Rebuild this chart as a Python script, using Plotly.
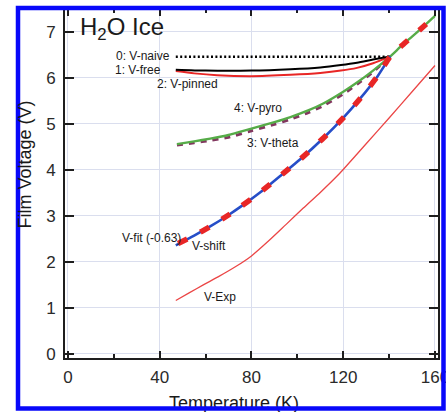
import plotly.graph_objects as go

# ---- data -------------------------------------------------------------
# 0: V-naive (constant)
t_naive = [47, 140.5]
v_naive = [6.46, 6.46]

# 1: V-free
t_free = [47, 60, 80, 97, 110, 119, 126, 133, 140.5]
v_free = [6.18, 6.16, 6.16, 6.19, 6.23, 6.28, 6.33, 6.40, 6.47]

# 2: V-pinned
t_pinned = [47, 55, 65, 80, 97, 110, 119, 126, 133, 140.5]
v_pinned = [6.15, 6.10, 6.06, 6.04, 6.07, 6.11, 6.16, 6.22, 6.32, 6.47]

# 4: V-pyro
t_pyro = [47.5, 55, 62, 70, 80, 90, 97, 105, 111.5, 120, 126, 133, 140.5, 145, 150, 155, 160]
v_pyro = [4.56, 4.62, 4.68, 4.76, 4.90, 5.04, 5.15, 5.30, 5.45, 5.70, 5.90, 6.16, 6.47, 6.68, 6.90, 7.12, 7.35]

# 3: V-theta
t_theta = [47.5, 55, 62, 70, 80, 90, 97, 105, 111.5, 120, 126, 133, 140.5]
v_theta = [4.54, 4.59, 4.64, 4.71, 4.85, 4.99, 5.10, 5.25, 5.40, 5.65, 5.86, 6.13, 6.47]

# V-fit (-0.63)
t_fit = [47, 55, 62, 70, 75, 84, 94, 101, 111.5, 120, 127.5, 135, 140.5]
v_fit = [2.36, 2.57, 2.77, 3.02, 3.19, 3.52, 3.93, 4.22, 4.70, 5.13, 5.56, 6.04, 6.47]

# V-shift
t_shift = [48, 55, 62, 70, 75, 84, 94, 101, 111.5, 120, 127.5, 135, 140.5, 145, 150, 155, 160]
v_shift = [2.40, 2.57, 2.77, 3.02, 3.19, 3.52, 3.93, 4.22, 4.70, 5.13, 5.56, 6.04, 6.47, 6.68, 6.90, 7.12, 7.35]

# V-Exp (measured)
t_exp = [47, 53, 59, 66, 73.5, 80, 88, 95, 102.6, 110, 117, 120, 130, 140, 150, 160]
v_exp = [1.16, 1.33, 1.50, 1.69, 1.91, 2.13, 2.48, 2.81, 3.17, 3.51, 3.85, 4.01, 4.57, 5.13, 5.70, 6.27]

x_ticks = [0, 40, 80, 120, 160]
y_ticks = [0, 1, 2, 3, 4, 5, 6, 7]

# ---- layout geometry (pixels) ----------------------------------------
W, H = 446, 412
PL, PR, PT, PB = 65, 437.5, 9, 357.5
FONT = "Liberation Sans, Arial, sans-serif"

RED = "rgb(232,38,38)"
GREEN = "rgb(86,172,72)"
BLUE = "rgb(38,78,200)"
THETA = "rgb(130,55,95)"

fig = go.Figure()

def line(t, v, color, width, dash="solid"):
    fig.add_trace(go.Scatter(x=t, y=v, mode="lines",
                             line=dict(color=color, width=width, dash=dash, shape="spline", smoothing=0.6),
                             hoverinfo="skip"))

line(t_exp, v_exp, "rgb(235,70,70)", 1.3)
line(t_naive, v_naive, "black", 2.5, "2px,2.4px")
line(t_pinned, v_pinned, RED, 2)
line(t_free, v_free, "black", 2)
line(t_theta, v_theta, THETA, 2.8, "6px,6px")
line(t_pyro, v_pyro, GREEN, 2.4)
line(t_fit, v_fit, BLUE, 2.6)
line(t_shift, v_shift, RED, 5.5, "10px,15px")

# x-axis title on a full-page pixel overlay so the frame can sit on top of it
fig.add_trace(go.Scatter(x=[234], y=[404], mode="text", text=["Temperature (K)"],
                         textfont=dict(family=FONT, size=18, color="#1a1a1a"),
                         textposition="middle center", cliponaxis=False,
                         xaxis="x2", yaxis="y2", hoverinfo="skip"))

axis_common = dict(showline=True, linecolor="#1e1e1e", linewidth=2, mirror="allticks",
                   ticks="inside", tickcolor="#1e1e1e", tickwidth=2,
                   showgrid=True, gridcolor="rgb(218,222,238)", gridwidth=1,
                   zeroline=False, automargin=False, fixedrange=True,
                   ticklabeloverflow="allow",
                   tickfont=dict(family=FONT, size=17, color="#2a2a2a"))

fig.update_layout(
    template="none",
    width=W, height=H,
    margin=dict(l=0, r=0, t=0, b=0),
    paper_bgcolor="white",
    plot_bgcolor="rgba(0,0,0,0)",
    showlegend=False,
    font=dict(family=FONT, color="#1a1a1a"),
    xaxis=dict(domain=[PL / W, PR / W], range=[-1.3, 161.1],
               tickvals=x_ticks, ticklen=7,
               minor=dict(dtick=20, tick0=0, ticks="inside", ticklen=4, tickwidth=2,
                          tickcolor="#1e1e1e", showgrid=False),
               ticklabelstandoff=3, **axis_common),
    yaxis=dict(domain=[1 - PB / H, 1 - PT / H], range=[-0.08, 7.5],
               tickvals=y_ticks, ticklen=9, ticklabelstandoff=4, **axis_common),
    xaxis2=dict(domain=[0, 1], range=[0, W], visible=False, anchor="y2", fixedrange=True),
    yaxis2=dict(domain=[0, 1], range=[H, 0], visible=False, anchor="x2", fixedrange=True),
)

# blue frame around the whole figure
fig.add_shape(type="rect", xref="paper", yref="paper",
              x0=18 / W, x1=443.5 / W, y0=1 - 408.5 / H, y1=1 - 8 / H,
              line=dict(color="rgb(8,8,250)", width=4.5), layer="above")

def label(text, x, y, xanchor="left", size=12):
    fig.add_annotation(x=x, y=y, xref="x", yref="y", text=text, showarrow=False,
                       xanchor=xanchor, yanchor="middle",
                       font=dict(family=FONT, size=size, color="#1a1a1a"))

label("H<sub>2</sub>O Ice", 4.4, 7.08, size=24)
label("0: V-naive", 45.3, 6.48, xanchor="right")
label("1: V-free", 41.4, 6.17, xanchor="right")
label("2: V-pinned", 37.9, 5.87)
label("4: V-pyro", 71.5, 5.35)
label("3: V-theta", 77.2, 4.59)
label("V-fit (-0.63)", 22.7, 2.52)
label("V-shift", 53.2, 2.35)
label("V-Exp", 58.4, 1.24)

fig.add_annotation(x=24.5 / W, y=1 - 165 / H, xref="paper", yref="paper",
                   text="Film Voltage (V)", textangle=-90, showarrow=False,
                   xanchor="center", yanchor="middle",
                   font=dict(family=FONT, size=18, color="#1a1a1a"))

fig.write_html("out.html")
